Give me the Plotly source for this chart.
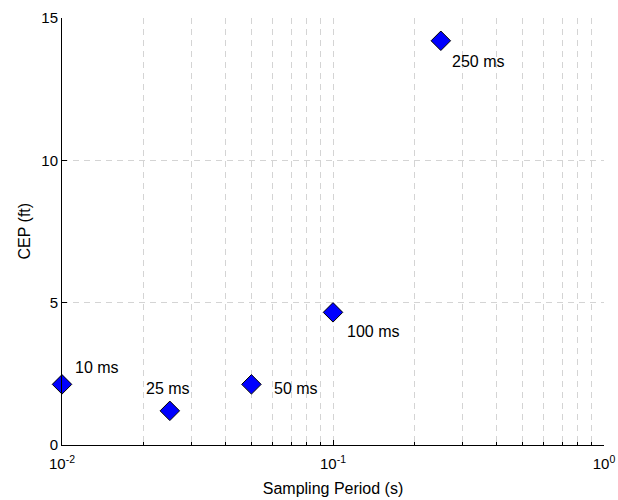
import math
import plotly.graph_objects as go

# Data
labels = ["10 ms", "25 ms", "50 ms", "100 ms", "250 ms"]
period_s = [0.010, 0.025, 0.050, 0.100, 0.250]
cep_ft = [2.13, 1.20, 2.13, 4.66, 14.2]
# label anchor positions (data coords, left-aligned text)
label_x = [0.0110, 0.0200, 0.0596, 0.1106, 0.2705]
label_y = [2.72, 1.97, 1.97, 4.0, 13.48]

x_major = [0.01, 0.1, 1]
x_major_text = ["10<sup>-2</sup>", "10<sup>-1</sup>", "10<sup>0</sup>"]
x_minor = [m * d for d in (0.01, 0.1) for m in range(2, 10)]
y_ticks = [0, 5, 10, 15]

font = "Liberation Sans, Arial, Helvetica, sans-serif"
grid_col = "#d4d4d4"

fig = go.Figure()
fig.add_trace(go.Scatter(
    x=period_s, y=cep_ft, mode="markers",
    marker=dict(symbol="diamond", size=15, color="#0000ff",
                line=dict(color="black", width=1)),
    showlegend=False, cliponaxis=False,
))

for t, lx, ly in zip(labels, label_x, label_y):
    # annotations on a log axis are positioned in log10 units
    fig.add_annotation(x=math.log10(lx), y=ly, xref="x", yref="y", text=t,
                       showarrow=False, xanchor="left", yanchor="middle",
                       font=dict(family=font, size=16, color="black"))

# y-axis title placed as a rotated annotation
fig.add_annotation(x=-38 / 542, y=0.5, xref="paper", yref="paper",
                   text="CEP (ft)", textangle=-90, showarrow=False,
                   xanchor="center", yanchor="middle",
                   font=dict(family=font, size=16, color="black"))

fig.update_layout(
    width=618, height=500,
    margin=dict(l=62, r=14, t=18, b=55),
    paper_bgcolor="white", plot_bgcolor="white",
    font=dict(family=font, size=15, color="black"),
    xaxis=dict(
        type="log", range=[-2, 0], automargin=False,
        tickmode="array", tickvals=x_major, ticktext=x_major_text,
        ticks="inside", ticklen=5, tickcolor="black", ticklabelstandoff=5,
        showline=True, linecolor="black", linewidth=1,
        showgrid=True, gridcolor=grid_col, griddash="6px,5px", gridwidth=1,
        minor=dict(tickvals=x_minor, ticks="inside", ticklen=3, tickcolor="black",
                   showgrid=True, gridcolor=grid_col, griddash="6px,5px", gridwidth=1),
        title=dict(text="Sampling Period (s)", font=dict(size=16), standoff=11),
        zeroline=False, mirror=False,
    ),
    yaxis=dict(
        range=[0, 15], tickmode="array", tickvals=y_ticks, automargin=False,
        ticks="inside", ticklen=5, tickcolor="black",
        showline=True, linecolor="black", linewidth=1,
        showgrid=True, gridcolor=grid_col, griddash="6px,5px", gridwidth=1,
        zeroline=False, mirror=False,
    ),
)

fig.write_html("out.html")
